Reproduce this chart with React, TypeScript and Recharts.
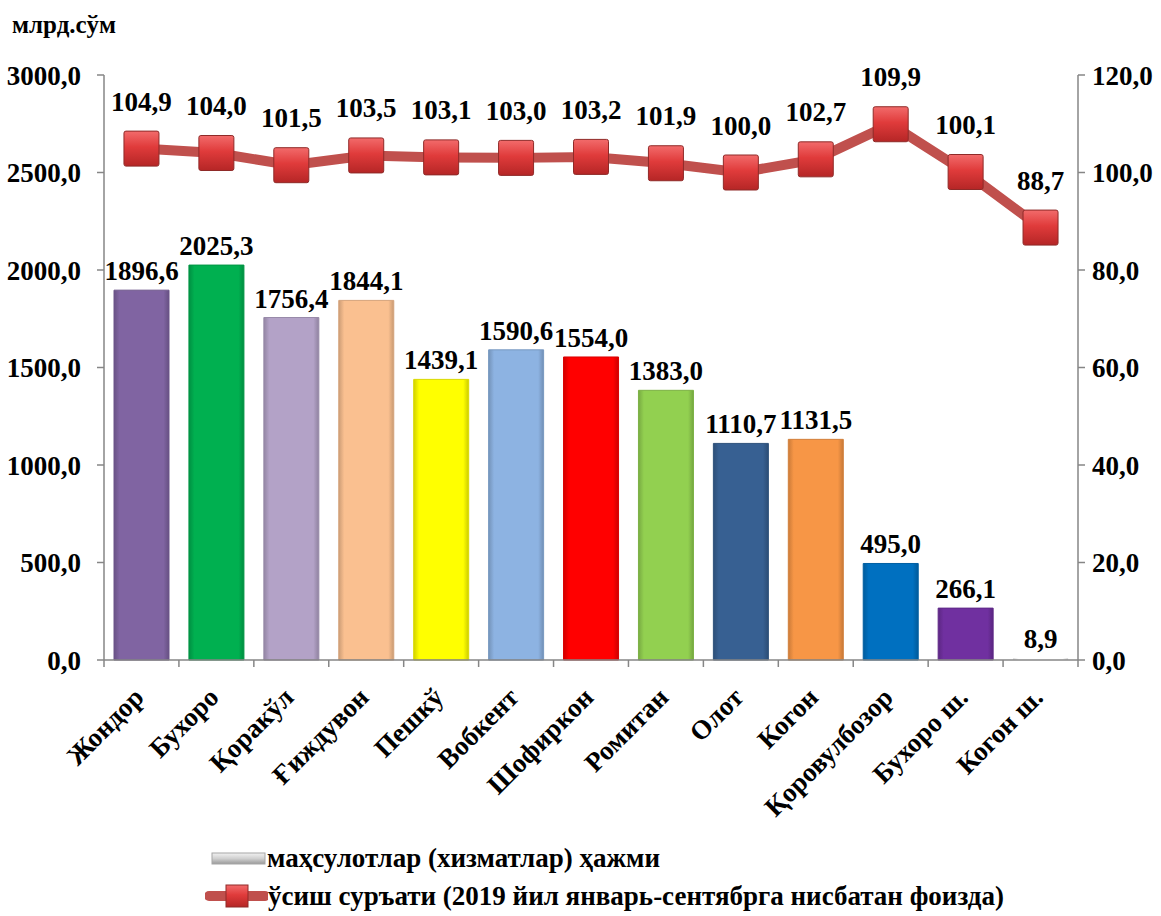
import React from "react";
import {
  ComposedChart,
  Bar,
  Line,
  XAxis,
  YAxis,
  Cell,
  LabelList,
} from "recharts";

const districts = [
  "Жондор",
  "Бухоро",
  "Қоракўл",
  "Ғиждувон",
  "Пешкў",
  "Вобкент",
  "Шофиркон",
  "Ромитан",
  "Олот",
  "Когон",
  "Қоровулбозор",
  "Бухоро ш.",
  "Когон ш.",
];
const volume = [1896.6, 2025.3, 1756.4, 1844.1, 1439.1, 1590.6, 1554.0, 1383.0, 1110.7, 1131.5, 495.0, 266.1, 8.9];
const growth = [104.9, 104.0, 101.5, 103.5, 103.1, 103.0, 103.2, 101.9, 100.0, 102.7, 109.9, 100.1, 88.7];
const barColors = [
  "#8064a2", "#00b050", "#b3a2c7", "#fac090", "#ffff00", "#8db3e2", "#ff0000",
  "#92d050", "#376092", "#f79646", "#0070c0", "#7030a0", "#ffffff",
];
const leftTicks = [0, 500, 1000, 1500, 2000, 2500, 3000];
const rightTicks = [0, 20, 40, 60, 80, 100, 120];

const data = districts.map((name, i) => ({ name, volume: volume[i], growth: growth[i] }));

const FONT = "'Liberation Serif', 'Times New Roman', serif";
const fmt = (v: number) => Number(v).toFixed(1).replace(".", ",");

function shade(hex: string, k: number) {
  const n = parseInt(hex.slice(1), 16);
  const r = Math.round(((n >> 16) & 255) * k);
  const g = Math.round(((n >> 8) & 255) * k);
  const b = Math.round((n & 255) * k);
  return `rgb(${r},${g},${b})`;
}

function CategoryTick(props: any) {
  const { x, y, payload, index } = props;
  const half = 974 / 13 / 2;
  return (
    <g>
      <line x1={x - half} y1={y - 7} x2={x - half} y2={y} stroke="#868686" strokeWidth={1.5} />
      {index === districts.length - 1 && (
        <line x1={x + half} y1={y - 7} x2={x + half} y2={y} stroke="#868686" strokeWidth={1.5} />
      )}
      <g transform={`translate(${x + 4},${y + 32})`}>
        <text
          transform="rotate(-45)"
          textAnchor="end"
          fontFamily={FONT}
          fontWeight="bold"
          fontSize={27}
          fill="#000"
        >
          {payload.value}
        </text>
      </g>
    </g>
  );
}

function SquareDot(props: any) {
  const { cx, cy } = props;
  if (cx == null || cy == null) return null;
  const s = 35;
  return (
    <rect
      x={cx - s / 2}
      y={cy - s / 2}
      width={s}
      height={s}
      rx={2}
      fill="url(#markerGrad)"
      stroke="#8f2a28"
      strokeWidth={1}
    />
  );
}

const labelStyle = { fill: "#000", fontFamily: FONT, fontWeight: "bold", fontSize: 27 };

export default function App() {
  return (
    <div style={{ position: "relative", width: 1161, height: 916 }}>
      <style>{`body{margin:0}`}</style>
      <div
        style={{
          position: "absolute",
          left: 12,
          top: 11,
          fontFamily: FONT,
          fontWeight: "bold",
          fontSize: 25,
          color: "#000",
        }}
      >
        млрд.сўм
      </div>
      <ComposedChart
        width={1161}
        height={916}
        data={data}
        margin={{ top: 75, right: 0, bottom: 0, left: 0 }}
      >
        <defs>
          {barColors.map((c, i) => (
            <linearGradient key={i} id={`bar${i}`} x1="0" y1="0" x2="1" y2="0">
              <stop offset="0%" stopColor={shade(c, 0.82)} />
              <stop offset="10%" stopColor={c} />
              <stop offset="90%" stopColor={c} />
              <stop offset="100%" stopColor={shade(c, 0.8)} />
            </linearGradient>
          ))}
          <linearGradient id="markerGrad" x1="0" y1="0" x2="0" y2="1">
            <stop offset="0%" stopColor="#f26b6b" />
            <stop offset="45%" stopColor="#e03b3b" />
            <stop offset="100%" stopColor="#b52626" />
          </linearGradient>
        </defs>
        <XAxis
          dataKey="name"
          height={256}
          interval={0}
          tickLine={false}
          tickSize={7}
          tickMargin={0}
          axisLine={{ stroke: "#868686", strokeWidth: 1.5 }}
          tick={<CategoryTick />}
        />
        <YAxis
          yAxisId="left"
          width={104}
          domain={[0, 3000]}
          ticks={leftTicks}
          tickFormatter={fmt}
          tickSize={7}
          tickMargin={16}
          axisLine={{ stroke: "#868686", strokeWidth: 1.5 }}
          tickLine={{ stroke: "#868686", strokeWidth: 1.5 }}
          tick={{ fill: "#000", fontFamily: FONT, fontWeight: "bold", fontSize: 27 }}
        />
        <YAxis
          yAxisId="right"
          orientation="right"
          width={83}
          domain={[0, 120]}
          ticks={rightTicks}
          tickFormatter={fmt}
          tickSize={7}
          tickMargin={7}
          axisLine={{ stroke: "#868686", strokeWidth: 1.5 }}
          tickLine={{ stroke: "#868686", strokeWidth: 1.5 }}
          tick={{ fill: "#000", fontFamily: FONT, fontWeight: "bold", fontSize: 27, textAnchor: "start" }}
        />
        <Bar yAxisId="left" dataKey="volume" barSize={55} isAnimationActive={false}>
          {data.map((_, i) => (
            <Cell
              key={i}
              fill={`url(#bar${i})`}
              stroke={i === data.length - 1 ? "none" : shade(barColors[i], 0.85)}
              strokeWidth={1}
            />
          ))}
          <LabelList
            dataKey="volume"
            position="top"
            offset={10}
            formatter={(v: any) => fmt(v)}
            style={labelStyle}
          />
        </Bar>
        <Line
          yAxisId="right"
          dataKey="growth"
          stroke="#c0504d"
          strokeWidth={10}
          dot={<SquareDot />}
          activeDot={false}
          isAnimationActive={false}
        >
          <LabelList
            dataKey="growth"
            position="top"
            offset={38}
            formatter={(v: any) => fmt(v)}
            style={labelStyle}
          />
        </Line>
      </ComposedChart>
      <div
        style={{
          position: "absolute",
          left: 205,
          top: 839,
          fontFamily: FONT,
          fontWeight: "bold",
          fontSize: 27,
          color: "#000",
          lineHeight: "38px",
        }}
      >
        <div style={{ display: "flex", alignItems: "center", whiteSpace: "nowrap" }}>
          <svg width={62} height={20}>
            <defs>
              <linearGradient id="legGrey" x1="0" y1="0" x2="0" y2="1">
                <stop offset="0%" stopColor="#f2f2f2" />
                <stop offset="50%" stopColor="#d0d0d0" />
                <stop offset="100%" stopColor="#9a9a9a" />
              </linearGradient>
            </defs>
            <rect x={7} y={5} width={53} height={11} fill="url(#legGrey)" stroke="#a6a6a6" />
          </svg>
          <span>маҳсулотлар (хизматлар) ҳажми</span>
        </div>
        <div style={{ display: "flex", alignItems: "center", whiteSpace: "nowrap" }}>
          <svg width={63} height={26}>
            <line x1={4} y1={13} x2={60} y2={13} stroke="#c0504d" strokeWidth={10} strokeLinecap="round" />
            <rect x={21} y={2} width={22} height={22} fill="url(#markerGrad)" stroke="#8f2a28" />
          </svg>
          <span>ўсиш суръати (2019 йил январь-сентябрга нисбатан фоизда)</span>
        </div>
      </div>
    </div>
  );
}
